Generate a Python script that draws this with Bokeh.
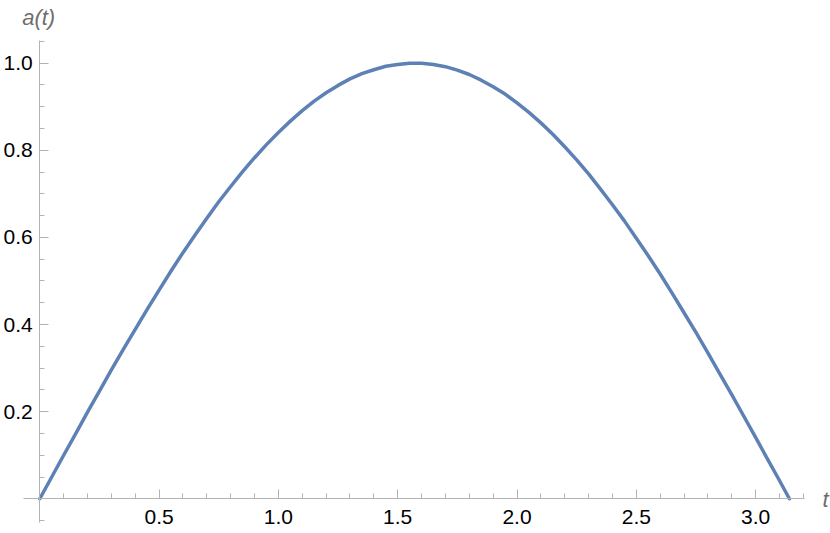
from bokeh.plotting import figure
from bokeh.models import Range1d, LinearAxis, FixedTicker, Label, ColumnDataSource, PrintfTickFormatter
from bokeh.embed import file_html
from bokeh.resources import INLINE

# ---- data ----
t_values = [0.00, 0.05, 0.10, 0.15, 0.20, 0.25, 0.30, 0.35, 0.40, 0.45,
            0.50, 0.55, 0.60, 0.65, 0.70, 0.75, 0.80, 0.85, 0.90, 0.95,
            1.00, 1.05, 1.10, 1.15, 1.20, 1.25, 1.30, 1.35, 1.40, 1.45,
            1.50, 1.55, 1.60, 1.65, 1.70, 1.75, 1.80, 1.85, 1.90, 1.95,
            2.00, 2.05, 2.10, 2.15, 2.20, 2.25, 2.30, 2.35, 2.40, 2.45,
            2.50, 2.55, 2.60, 2.65, 2.70, 2.75, 2.80, 2.85, 2.90, 2.95,
            3.00, 3.05, 3.10, 3.1416]
a_values = [0.000, 0.050, 0.100, 0.149, 0.199, 0.247, 0.296, 0.343, 0.389, 0.435,
            0.479, 0.523, 0.565, 0.605, 0.644, 0.682, 0.717, 0.751, 0.783, 0.813,
            0.841, 0.867, 0.891, 0.913, 0.932, 0.949, 0.964, 0.976, 0.985, 0.993,
            0.997, 1.000, 1.000, 0.997, 0.992, 0.984, 0.974, 0.961, 0.946, 0.929,
            0.909, 0.887, 0.863, 0.837, 0.808, 0.778, 0.746, 0.711, 0.675, 0.638,
            0.598, 0.558, 0.516, 0.472, 0.427, 0.382, 0.335, 0.287, 0.239, 0.190,
            0.141, 0.091, 0.042, 0.000]

x_major_ticks = [0.5, 1.0, 1.5, 2.0, 2.5, 3.0]
x_minor_ticks = [0.1, 0.2, 0.3, 0.4, 0.6, 0.7, 0.8, 0.9, 1.1, 1.2, 1.3, 1.4,
                 1.6, 1.7, 1.8, 1.9, 2.1, 2.2, 2.3, 2.4, 2.6, 2.7, 2.8, 2.9,
                 3.1, 3.2]
y_major_ticks = [0.2, 0.4, 0.6, 0.8, 1.0]
y_minor_ticks = [-0.05, 0.05, 0.1, 0.15, 0.25, 0.3, 0.35, 0.45, 0.5, 0.55,
                 0.65, 0.7, 0.75, 0.85, 0.9, 0.95, 1.05]
x_axis_extent = (-0.0683, 3.205)
y_axis_extent = (-0.0544, 1.052)
x_title = "t"
y_title = "a(t)"

# ---- style ----
LINE_COLOR = "#5E81B5"
AXIS_COLOR = "#b3b3b3"
TITLE_COLOR = "#6e6e6e"
FONT = "Liberation Sans"

p = figure(width=830, height=533, output_backend="svg", toolbar_location=None,
           x_range=Range1d(-0.1647, 3.3139), y_range=Range1d(-0.0797, 1.1439),
           x_axis_type=None, y_axis_type=None,
           min_border_left=0, min_border_right=0, min_border_top=0, min_border_bottom=0)
p.outline_line_color = None
p.background_fill_color = "white"
p.border_fill_color = "white"

def style_axis(ax):
    ax.axis_line_color = AXIS_COLOR
    ax.axis_line_width = 1
    ax.major_tick_line_color = AXIS_COLOR
    ax.minor_tick_line_color = AXIS_COLOR
    ax.major_tick_in = 9
    ax.major_tick_out = 0
    ax.minor_tick_in = 5
    ax.minor_tick_out = 0
    ax.major_label_text_font = FONT
    ax.major_label_text_font_size = "21px"
    ax.major_label_text_color = "#000000"
    ax.formatter = PrintfTickFormatter(format="%.1f")

xaxis = LinearAxis(fixed_location=0, bounds=x_axis_extent,
                   ticker=FixedTicker(ticks=x_major_ticks, minor_ticks=x_minor_ticks))
style_axis(xaxis)
xaxis.major_label_standoff = 11
p.add_layout(xaxis, "below")

yaxis = LinearAxis(fixed_location=0, bounds=y_axis_extent,
                   ticker=FixedTicker(ticks=y_major_ticks, minor_ticks=y_minor_ticks))
style_axis(yaxis)
yaxis.major_label_standoff = 7
p.add_layout(yaxis, "left")

src = ColumnDataSource(dict(t=t_values, a=a_values))
p.line("t", "a", source=src, line_color=LINE_COLOR, line_width=3.5, line_join="round", line_cap="round")

p.add_layout(Label(x=-0.0738, y=1.106, text=y_title, text_font=FONT, text_font_style="italic",
                   text_font_size="22px", text_color=TITLE_COLOR, text_baseline="alphabetic"))
p.add_layout(Label(x=3.280, y=-0.002, text=x_title, text_font=FONT, text_font_style="italic",
                   text_font_size="22px", text_color=TITLE_COLOR, text_baseline="alphabetic"))

open("out.html", "w").write(file_html(p, INLINE))
